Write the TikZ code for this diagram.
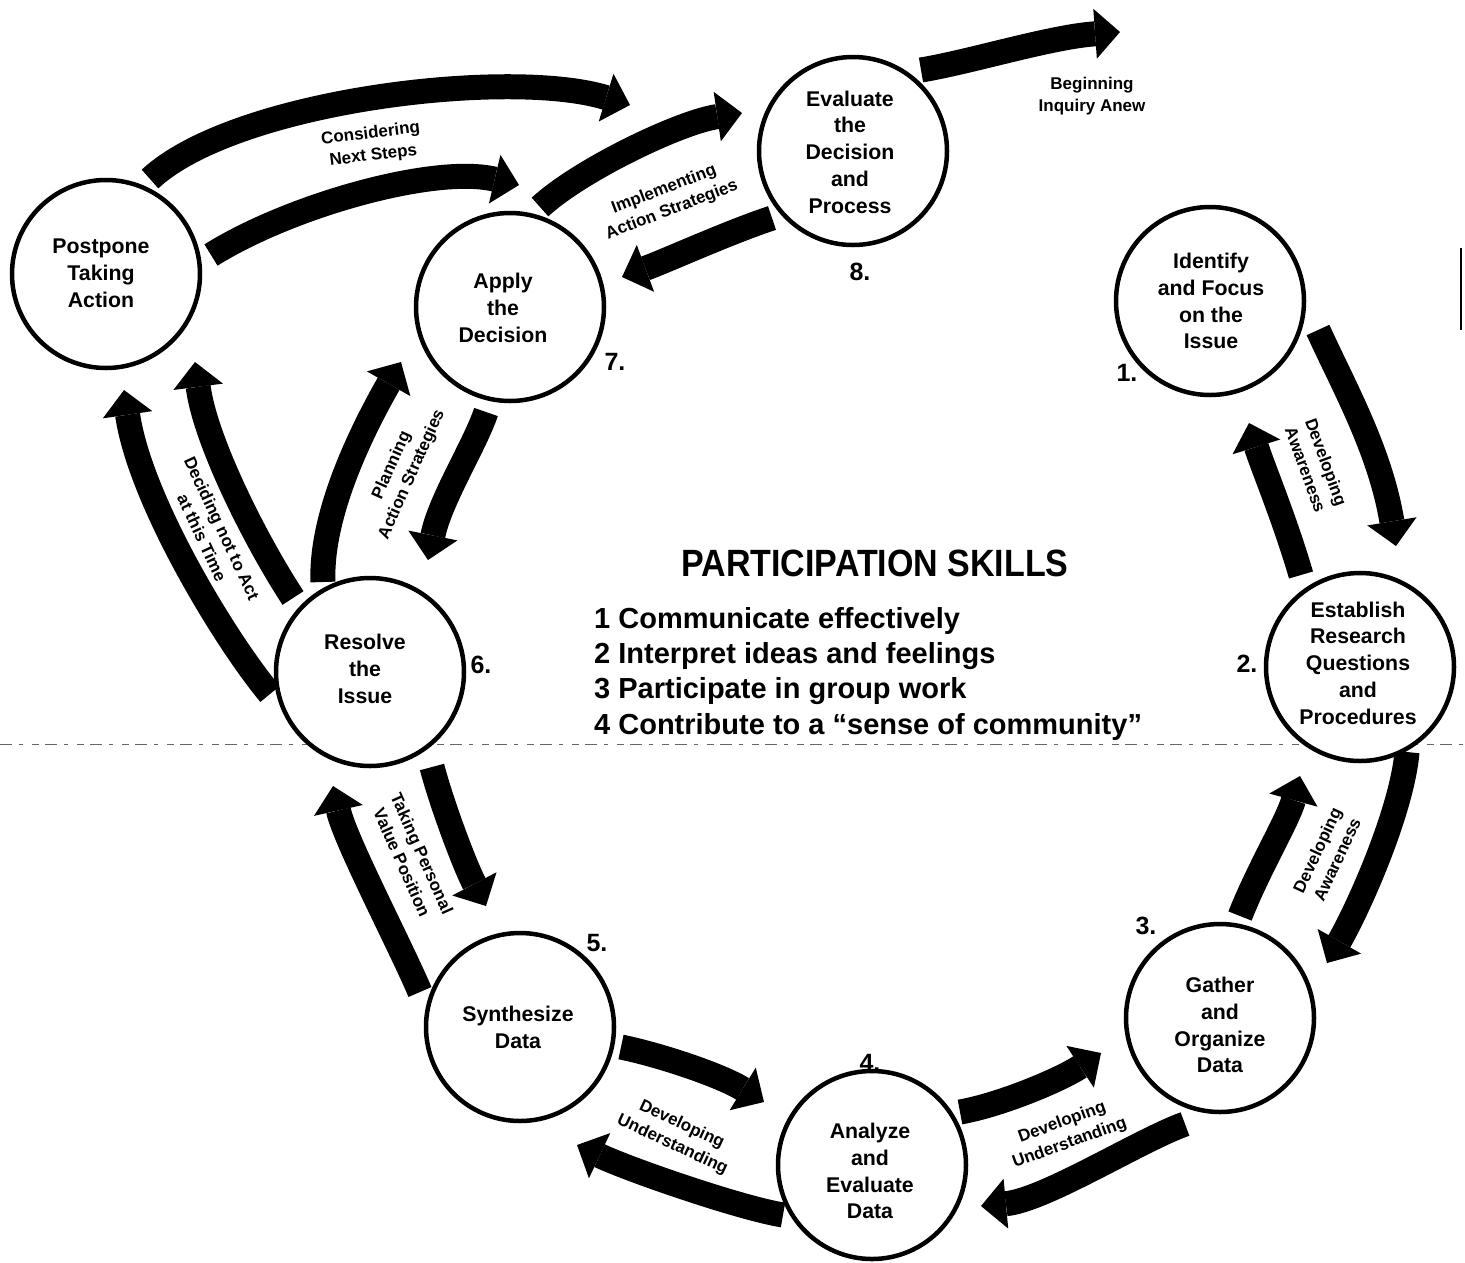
\documentclass[tikz,border=0pt]{standalone}
\usepackage{fontspec}
\setmainfont{Liberation Sans}
\usetikzlibrary{arrows.meta}
\pgfdeclarelayer{bg}
\pgfsetlayers{bg,main}
\begin{document}
\begin{tikzpicture}[x=1pt,y=-1pt,
  stage/.style={circle, draw, fill=white, line width=4.5pt, minimum size=188pt, inner sep=0pt},
  stagetext/.style={align=center, inner sep=0pt, font=\fontsize{21.3}{26.8}\selectfont\bfseries},
  bigarrow/.style={line width=25pt, -{Triangle[width=50pt,length=25pt,line width=0pt]}},
  arrowlabel/.style={align=center, inner sep=0pt, font=\fontsize{17}{22}\selectfont\bfseries},
  numlabel/.style={inner sep=0pt, font=\fontsize{25}{25}\selectfont\bfseries},
  skill/.style={anchor=west, inner sep=0pt, font=\fontsize{29}{30}\selectfont\bfseries},
  scanline/.style={line width=1pt, black!60, dash pattern=on 12pt off 7pt on 4pt off 9pt on 7pt off 6pt},
]
\useasboundingbox (0,0) rectangle (1465,1262);

% stage circles
\node[stage] (c0) at (106,274) {};
\node[stage] (c7) at (510,307) {};
\node[stage] (c8) at (853,151) {};
\node[stage] (c1) at (1210,301) {};
\node[stage] (c2) at (1360,667) {};
\node[stage] (c3) at (1220,1018) {};
\node[stage] (c4) at (872,1165) {};
\node[stage] (c5) at (520,1027) {};
\node[stage] (c6) at (370,672) {};

% stage texts
\node[stagetext] (t0) at (101,273) {Postpone\\Taking\\Action};
\node[stagetext] (t7) at (503,308) {Apply\\the\\Decision};
\node[stagetext] (t8) at (850,152) {Evaluate\\the\\Decision\\and\\Process};
\node[stagetext] (t1) at (1211,301) {Identify\\and Focus\\on the\\Issue};
\node[stagetext] (t2) at (1358,663) {Establish\\Research\\Questions\\and\\Procedures};
\node[stagetext] (t3) at (1220,1025) {Gather\\and\\Organize\\Data};
\node[stagetext] (t4) at (870,1171) {Analyze\\and\\Evaluate\\Data};
\node[stagetext] (t5) at (518,1027) {Synthesize\\Data};
\node[stagetext] (t6) at (365,669) {Resolve\\the\\Issue};

% step numbers
\node[numlabel] (n1) at (1127,373) {1.};
\node[numlabel] (n2) at (1247,664) {2.};
\node[numlabel] (n3) at (1146,926) {3.};
\node[numlabel] (n4) at (870,1063) {4.};
\node[numlabel] (n5) at (597,943) {5.};
\node[numlabel] (n6) at (481,665) {6.};
\node[numlabel] (n7) at (615,362) {7.};
\node[numlabel] (n8) at (860,272) {8.};

% arrow end points
\coordinate (a1s) at (150,179);  \coordinate (a1e) at (630,105);
\coordinate (a2s) at (211,255);  \coordinate (a2e) at (519,185);
\coordinate (a3s) at (540,207);  \coordinate (a3e) at (742,113);
\coordinate (a4s) at (772,218);  \coordinate (a4e) at (622,277);
\coordinate (a5s) at (921,70);   \coordinate (a5e) at (1120,32);
\coordinate (a6s) at (1318,330); \coordinate (a6e) at (1396,546);
\coordinate (a7s) at (1301,575); \coordinate (a7e) at (1249,423);
\coordinate (a8s) at (1407,752); \coordinate (a8e) at (1327,963);
\coordinate (a9s) at (1240,916); \coordinate (a9e) at (1300,776);
\coordinate (a10s) at (1185,1124); \coordinate (a10e) at (981,1206);
\coordinate (a11s) at (960,1112);  \coordinate (a11e) at (1101,1053);
\coordinate (a12s) at (621,1047);  \coordinate (a12e) at (764,1102);
\coordinate (a13s) at (783,1215);  \coordinate (a13e) at (577,1145);
\coordinate (a14s) at (432,767);   \coordinate (a14e) at (486,906);
\coordinate (a15s) at (420,992);   \coordinate (a15e) at (333,786);
\coordinate (a16s) at (323,582);   \coordinate (a16e) at (401,362);
\coordinate (a17s) at (486,412);   \coordinate (a17e) at (428,560);
\coordinate (a18s) at (293,598);   \coordinate (a18e) at (195,362);
\coordinate (a19s) at (270,694);   \coordinate (a19e) at (124,390);

\begin{pgfonlayer}{bg}
\draw[bigarrow] (a1s) .. controls (235,100) and (510,68) .. (a1e);
\draw[bigarrow] (a2s) .. controls (291,205) and (435,165) .. (a2e);
\draw[bigarrow] (a3s) .. controls (580,170) and (680,122) .. (a3e);
\draw[bigarrow] (a4s) .. controls (727,233) and (668,260) .. (a4e);
\draw[bigarrow] (a5s) .. controls (970,62) and (1050,37) .. (a5e);
\draw[bigarrow] (a6s) .. controls (1343,385) and (1380,450) .. (a6e);
\draw[bigarrow] (a7s) .. controls (1285,520) and (1262,465) .. (a7e);
\draw[bigarrow] (a8s) .. controls (1402,810) and (1360,905) .. (a8e);
\draw[bigarrow] (a9s) .. controls (1258,870) and (1288,820) .. (a9e);
\draw[bigarrow] (a10s) .. controls (1140,1140) and (1045,1200) .. (a10e);
\draw[bigarrow] (a11s) .. controls (1000,1105) and (1060,1080) .. (a11e);
\draw[bigarrow] (a12s) .. controls (660,1055) and (720,1075) .. (a12e);
\draw[bigarrow] (a13s) .. controls (740,1208) and (630,1170) .. (a13e);
\draw[bigarrow] (a14s) .. controls (442,805) and (465,866) .. (a14e);
\draw[bigarrow] (a15s) .. controls (400,945) and (345,840) .. (a15e);
\draw[bigarrow] (a16s) .. controls (320,510) and (368,420) .. (a16e);
\draw[bigarrow] (a17s) .. controls (475,445) and (440,500) .. (a17e);
\draw[bigarrow] (a18s) .. controls (255,540) and (205,440) .. (a18e);
\draw[bigarrow] (a19s) .. controls (225,640) and (140,500) .. (a19e);
% scan artefacts
\draw[scanline] (0,744) -- (1465,744);
\draw[line width=2pt] (1461,248) -- (1461,330);
\end{pgfonlayer}

% arrow labels
\node[arrowlabel, rotate=7] (l1) at (372,145) {Considering\\Next Steps};
\node[arrowlabel, rotate=21] (l2) at (668,200) {Implementing\\Action Strategies};
\node[arrowlabel] (l3) at (1092,96) {Beginning\\Inquiry Anew};
\node[arrowlabel, rotate=-70] (l4) at (1316,466) {Developing\\Awareness};
\node[arrowlabel, rotate=65] (l5) at (1327,855) {Developing\\Awareness};
\node[arrowlabel, rotate=20] (l6) at (1066,1133) {Developing\\Understanding};
\node[arrowlabel, rotate=-25] (l7) at (677,1135) {Developing\\Understanding};
\node[arrowlabel, rotate=-66] (l8) at (412,858) {Taking Personal\\Value Position};
\node[arrowlabel, rotate=66] (l9) at (402,470) {Planning\\Action Strategies};
\node[arrowlabel, rotate=-65] (l10) at (212,533) {Deciding not to Act\\at this Time};

% centre text
\node[inner sep=0pt, font=\fontsize{38}{38}\selectfont\bfseries] (title) at (875,563) {\scalebox{0.895}[1]{PARTICIPATION SKILLS}};
\node[skill] (s1) at (594,621) {1 Communicate effectively};
\node[skill] (s2) at (594,656) {2 Interpret ideas and feelings};
\node[skill] (s3) at (594,691) {3 Participate in group work};
\node[skill] (s4) at (594,727) {4 Contribute to a ``sense of community''};
\end{tikzpicture}
\end{document}
